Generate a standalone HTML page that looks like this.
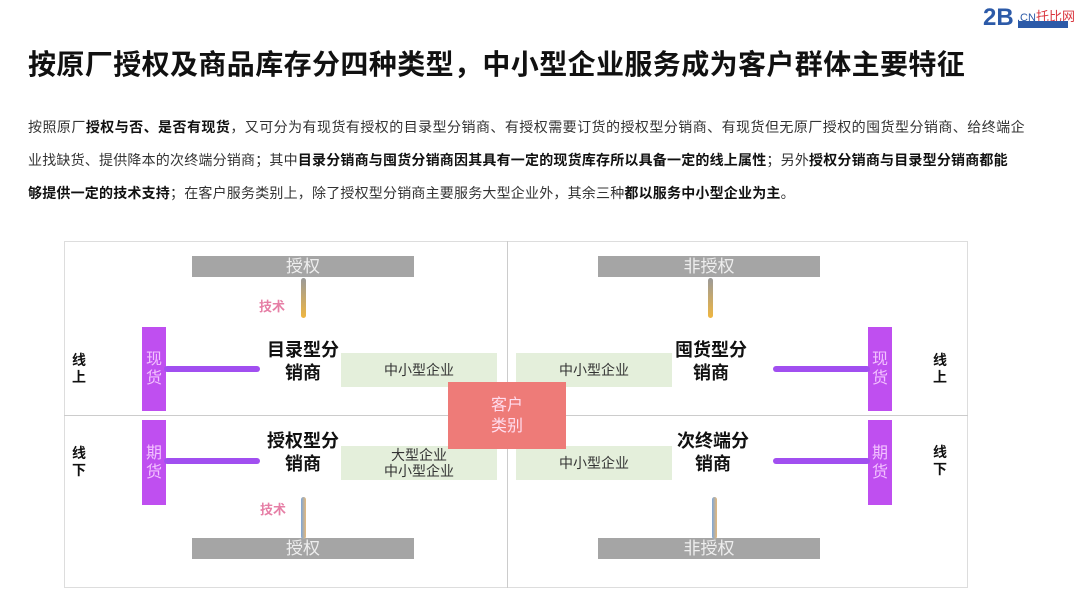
<!DOCTYPE html>
<html><head><meta charset="utf-8"><style>
body{margin:0;width:1080px;height:597px;background:#fff;position:relative;overflow:hidden;font-family:"Liberation Sans","Noto Sans CJK SC",sans-serif;}
.a{position:absolute;}
.t{left:28px;top:43px;font-size:28px;letter-spacing:0.4px;font-weight:bold;color:#111;white-space:nowrap;}
.p{left:28px;font-size:14px;color:#333;white-space:nowrap;letter-spacing:0.2px;}
.p b{color:#111;}
.gb{background:#a5a5a5;color:#eee;font-size:17px;text-align:center;line-height:21px;height:21px;width:222px;}
.vb{background:#bf4ff0;color:#f3c2ff;font-size:16px;width:24px;text-align:center;line-height:19px;display:flex;align-items:center;justify-content:center;}
.hl{height:6px;border-radius:3px;background:#a14ff0;}
.gr{background:#e4efdb;color:#333;font-size:14px;text-align:center;display:flex;align-items:center;justify-content:center;line-height:16px;width:156px;height:34px;}
.n{font-size:18px;font-weight:bold;color:#111;text-align:center;line-height:23px;width:110px;}
.lab{font-size:14px;font-weight:bold;color:#111;line-height:17px;}
.js{font-size:13px;font-weight:bold;color:#e67fa6;}
.c1{width:5px;border-radius:3px;background:linear-gradient(#9a9a9a,#f0b640);}
.c2{width:5px;border-radius:3px;background:linear-gradient(90deg,#7ea6d8,#e6b97a);}
</style></head><body>
<div class="a" style="left:983px;top:4px;font-size:24px;color:#2c5aa8;font-weight:bold;">2B</div>
<div class="a" style="left:1017px;top:6px;font-size:11px;color:#2c5aa8;">.CN<span style="color:#d9363e;font-size:13px">托比网</span></div>
<div class="a" style="left:1018px;top:21px;width:50px;height:7px;background:#2c5aa8;"></div>
<div class="a t">按原厂授权及商品库存分四种类型，中小型企业服务成为客户群体主要特征</div>
<div class="a p" style="top:117px;letter-spacing:0.45px">按照原厂<b>授权与否、是否有现货</b>，又可分为有现货有授权的目录型分销商、有授权需要订货的授权型分销商、有现货但无原厂授权的囤货型分销商、给终端企</div>
<div class="a p" style="top:150px">业找缺货、提供降本的次终端分销商；其中<b>目录分销商与囤货分销商因其具有一定的现货库存所以具备一定的线上属性</b>；另外<b>授权分销商与目录型分销商都能</b></div>
<div class="a p" style="top:183px"><b>够提供一定的技术支持</b>；在客户服务类别上，除了授权型分销商主要服务大型企业外，其余三种<b>都以服务中小型企业为主</b>。</div>

<div class="a" style="left:64px;top:241px;width:904px;height:347px;border:1px solid #ddd;box-sizing:border-box;"></div>
<div class="a" style="left:507px;top:241px;width:1px;height:347px;background:#ccc;"></div>
<div class="a" style="left:64px;top:415px;width:904px;height:1px;background:#ccc;"></div>

<div class="a gb" style="left:192px;top:256px">授权</div>
<div class="a gb" style="left:192px;top:538px">授权</div>
<div class="a gb" style="left:598px;top:256px">非授权</div>
<div class="a gb" style="left:598px;top:538px">非授权</div>

<div class="a c1" style="left:301px;top:278px;height:40px"></div>
<div class="a c1" style="left:708px;top:278px;height:40px"></div>
<div class="a c2" style="left:301px;top:497px;height:42px"></div>
<div class="a c2" style="left:712px;top:497px;height:42px"></div>
<div class="a js" style="left:259px;top:296px">技术</div>
<div class="a js" style="left:260px;top:499px">技术</div>

<div class="a vb" style="left:142px;top:327px;height:84px">现<br>货</div>
<div class="a vb" style="left:142px;top:420px;height:85px">期<br>货</div>
<div class="a vb" style="left:868px;top:327px;height:84px">现<br>货</div>
<div class="a vb" style="left:868px;top:420px;height:85px">期<br>货</div>

<div class="a hl" style="left:164px;top:366px;width:96px"></div>
<div class="a hl" style="left:164px;top:458px;width:96px"></div>
<div class="a hl" style="left:773px;top:366px;width:97px"></div>
<div class="a hl" style="left:773px;top:458px;width:97px"></div>

<div class="a n" style="left:248px;top:339px">目录型分<br>销商</div>
<div class="a n" style="left:248px;top:430px">授权型分<br>销商</div>
<div class="a n" style="left:656px;top:339px">囤货型分<br>销商</div>
<div class="a n" style="left:658px;top:430px">次终端分<br>销商</div>

<div class="a gr" style="left:341px;top:353px">中小型企业</div>
<div class="a gr" style="left:341px;top:446px">大型企业<br>中小型企业</div>
<div class="a gr" style="left:516px;top:353px">中小型企业</div>
<div class="a gr" style="left:516px;top:446px">中小型企业</div>

<div class="a" style="left:448px;top:382px;width:118px;height:67px;background:#ee7b78;color:#fde;font-size:16px;line-height:21px;display:flex;align-items:center;justify-content:center;text-align:center;">客户<br>类别</div>

<div class="a lab" style="left:72px;top:352px">线<br>上</div>
<div class="a lab" style="left:72px;top:445px">线<br>下</div>
<div class="a lab" style="left:933px;top:352px">线<br>上</div>
<div class="a lab" style="left:933px;top:444px">线<br>下</div>
</body></html>
